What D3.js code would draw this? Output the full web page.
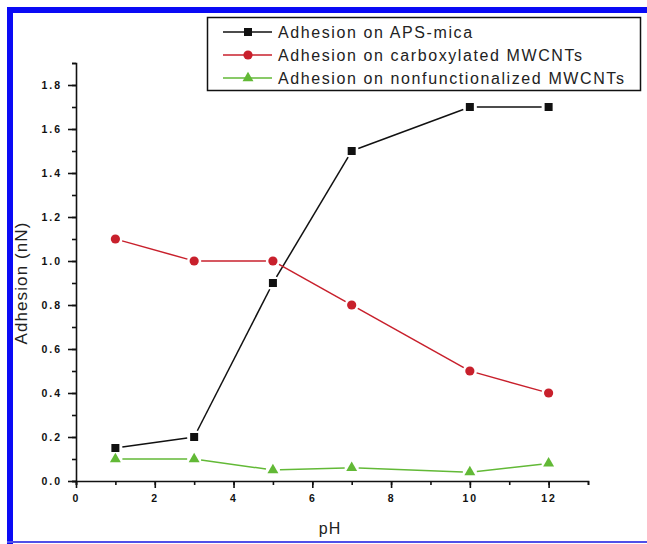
<!DOCTYPE html>
<html>
<head>
<meta charset="utf-8">
<script src="https://cdn.jsdelivr.net/npm/d3@7"></script>
<style>
  body { margin: 0; background: #fff; }
  svg { display: block; font-family: "Liberation Sans", Arial, sans-serif; }
</style>
</head>
<body>
<svg id="chart"></svg>
<script>
// data
const phValues = [1, 3, 5, 7, 10, 12];
const apsMica = [0.15, 0.20, 0.90, 1.50, 1.70, 1.70];
const carboxylated = [1.10, 1.00, 1.00, 0.80, 0.50, 0.40];
const nonfunctionalized = [0.10, 0.10, 0.05, 0.06, 0.04, 0.08];
const seriesNames = ["Adhesion on APS-mica", "Adhesion on carboxylated MWCNTs", "Adhesion on nonfunctionalized MWCNTs"];
const xMajorTicks = [0, 2, 4, 6, 8, 10, 12];
const yMajorTicks = [0, 0.2, 0.4, 0.6, 0.8, 1.0, 1.2, 1.4, 1.6, 1.8];

function makeChart() {
	let w = 647;
	let h = 544;

	let svg = d3.select('#chart')
		.attr('width', w)
		.attr('height', h);

	// blue frame of the scan
	svg.append('rect').attr('x', 7).attr('y', 7).attr('width', w - 7).attr('height', 6).attr('fill', '#0a0af5');
	svg.append('rect').attr('x', 7).attr('y', 7).attr('width', 6).attr('height', h - 7).attr('fill', '#0a0af5');
	svg.append('rect').attr('x', 7).attr('y', 541).attr('width', w - 7).attr('height', 2).attr('fill', '#5050e8');

	let x = d3.scaleLinear().domain([0, 13]).range([76, 588]);
	let y = d3.scaleLinear().domain([0, 1.9]).range([481, 63]);

	let series = [
		{ name: seriesNames[0], values: apsMica, color: '#111111', shape: 'square' },
		{ name: seriesNames[1], values: carboxylated, color: '#c8202c', shape: 'circle' },
		{ name: seriesNames[2], values: nonfunctionalized, color: '#62b936', shape: 'triangle' }
	];

	// axes
	let yMinor = d3.range(0, 20).map(d => d / 10);
	let xMinor = d3.range(0, 14);

	let yAxisMinor = svg.append('g')
		.attr('transform', `translate(${x(0)},0)`)
		.call(d3.axisLeft(y).tickValues(yMinor).tickSize(4).tickFormat(''));
	let yAxis = svg.append('g')
		.attr('transform', `translate(${x(0)},0)`)
		.call(d3.axisLeft(y).tickValues(yMajorTicks).tickSize(8).tickPadding(6).tickFormat(d3.format('.1f')));
	let xAxisMinor = svg.append('g')
		.attr('transform', `translate(0,${y(0)})`)
		.call(d3.axisBottom(x).tickValues(xMinor).tickSize(4).tickFormat(''));
	let xAxis = svg.append('g')
		.attr('transform', `translate(0,${y(0)})`)
		.call(d3.axisBottom(x).tickValues(xMajorTicks).tickSize(7).tickPadding(7).tickFormat(d3.format('d')));

	[yAxisMinor, yAxis, xAxisMinor, xAxis].forEach(g => {
		g.select('.domain').attr('stroke', '#111').attr('stroke-width', 1.6);
		g.selectAll('.tick line').attr('stroke', '#111').attr('stroke-width', 1.6);
		g.selectAll('.tick text')
			.attr('fill', '#111')
			.style('font-size', '10.5px')
			.style('font-weight', 'bold')
			.style('letter-spacing', '2px')
			.style('font-family', '"Liberation Sans", Arial, sans-serif');
	});
	yAxis.select('.domain').remove();
	xAxis.select('.domain').remove();

	// axis titles
	svg.append('text')
		.attr('transform', 'translate(27,283) rotate(-90)')
		.attr('text-anchor', 'middle')
		.style('font-size', '17px')
		.style('letter-spacing', '1.1px')
		.attr('fill', '#222')
		.text('Adhesion (nN)');
	svg.append('text')
		.attr('x', (x(0) + x(13)) / 2 - 2)
		.attr('y', 534)
		.attr('text-anchor', 'middle')
		.style('font-size', '16px')
		.style('letter-spacing', '1px')
		.attr('fill', '#222')
		.text('pH');

	function drawMarker(g, shape, color, cx, cy) {
		if (shape == 'square') {
			g.append('rect').attr('x', cx - 4).attr('y', cy - 4).attr('width', 8).attr('height', 8).attr('fill', color);
		} else if (shape == 'circle') {
			g.append('circle').attr('cx', cx).attr('cy', cy).attr('r', 4.6).attr('fill', color);
		} else {
			let s = d3.symbol().type(d3.symbolTriangle).size(52);
			g.append('path').attr('d', s).attr('transform', `translate(${cx},${cy})`).attr('fill', color);
		}
	}

	// lines with small gaps near the markers
	let gap = 7;
	series.forEach(s => {
		let g = svg.append('g');
		let pts = phValues.map((p, i) => [x(p), y(s.values[i])]);
		for (let i = 0; i < pts.length - 1; i++) {
			let [x1, y1] = pts[i];
			let [x2, y2] = pts[i + 1];
			let len = Math.hypot(x2 - x1, y2 - y1);
			let ux = (x2 - x1) / len, uy = (y2 - y1) / len;
			g.append('line')
				.attr('x1', x1 + ux * gap).attr('y1', y1 + uy * gap)
				.attr('x2', x2 - ux * gap).attr('y2', y2 - uy * gap)
				.attr('stroke', s.color)
				.attr('stroke-width', 1.5);
		}
		pts.forEach(pt => drawMarker(g, s.shape, s.color, pt[0], pt[1]));
	});

	// legend
	let legend = svg.append('g');
	legend.append('rect')
		.attr('x', 207.5).attr('y', 17.5).attr('width', 433).attr('height', 73)
		.attr('fill', '#fff').attr('stroke', '#111').attr('stroke-width', 1.5);
	series.forEach((s, i) => {
		let ly = 32 + i * 23;
		legend.append('line')
			.attr('x1', 223).attr('x2', 272).attr('y1', ly).attr('y2', ly)
			.attr('stroke', s.color).attr('stroke-width', 1.5);
		drawMarker(legend, s.shape, s.color, 248, ly);
		legend.append('text')
			.attr('x', 278).attr('y', ly + 5.5)
			.style('font-size', '16px')
			.style('letter-spacing', '1.6px')
			.attr('fill', '#222')
			.text(s.name);
	});
}

window.onload = function () {
	makeChart();
}
</script>
</body>
</html>
